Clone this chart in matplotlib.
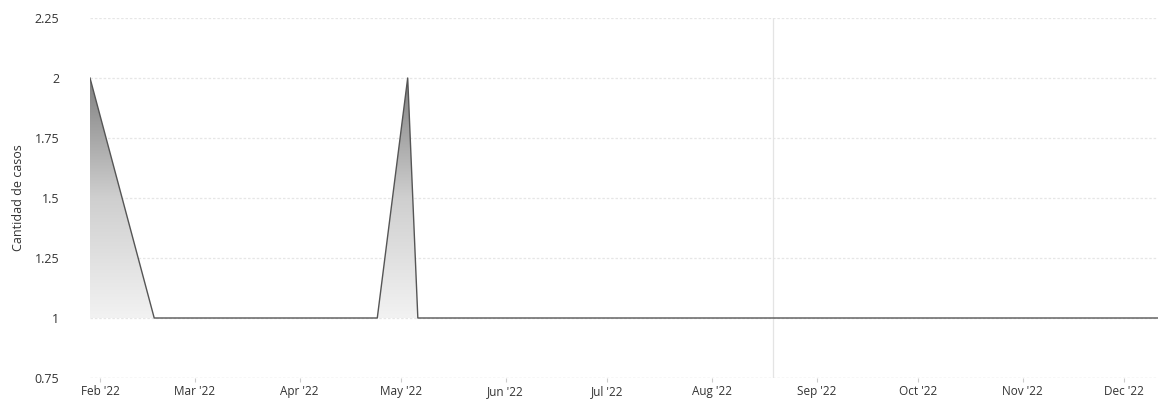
import matplotlib
matplotlib.use("Agg")
import matplotlib.pyplot as plt
import matplotlib.dates as mdates
import numpy as np
from datetime import datetime

# Case counts over time
dates = ["2022-01-29", "2022-02-17", "2022-04-24", "2022-05-03", "2022-05-06", "2022-12-11"]
values = [2, 1, 1, 2, 1, 1]
y_ticks = [0.75, 1, 1.25, 1.5, 1.75, 2, 2.25]
y_tick_labels = ["0.75", "1", "1.25", "1.5", "1.75", "2", "2.25"]
month_ticks = ["2022-02-01", "2022-03-01", "2022-04-01", "2022-05-01", "2022-06-01",
               "2022-07-01", "2022-08-01", "2022-09-01", "2022-10-01", "2022-11-01",
               "2022-12-01"]
month_labels = ["Feb '22", "Mar '22", "Apr '22", "May '22", "Jun '22", "Jul '22",
                "Aug '22", "Sep '22", "Oct '22", "Nov '22", "Dec '22"]
y_label = "Cantidad de casos"

plt.rcParams["font.family"] = ["Open Sans", "DejaVu Sans"]

x = mdates.date2num([datetime.fromisoformat(d) for d in dates])
xt = mdates.date2num([datetime.fromisoformat(d) for d in month_ticks])
y = np.array(values, dtype=float)

fig = plt.figure(figsize=(11.58, 4.0), dpi=100)
ax = fig.add_axes([90 / 1158, 0.055, 1 - 90 / 1158, 0.90])

x0 = mdates.date2num(datetime(2022, 1, 29))
x1 = mdates.date2num(datetime(2022, 12, 11))
ax.set_xlim(x0, x1)
ax.set_ylim(0.75, 2.25)

# horizontal grid
for i, t in enumerate(y_ticks):
    ax.axhline(t, color="#c4c4c4" if i == 0 else "#e6e6e6", lw=0.9,
               ls=(0, (2, 1.5)), zorder=0)

# gradient area fill between the series and the baseline
poly = ax.fill_between(x, y, 1, color="none", lw=0)
grad = np.linspace(0, 1, 256).reshape(-1, 1)
cmap = matplotlib.colors.LinearSegmentedColormap.from_list(
    "g", ["#f2f2f2", "#cfcfcf", "#808080"])
img = ax.imshow(grad, cmap=cmap, aspect="auto", origin="lower",
                extent=[x0, x1, 1, 2], zorder=1, interpolation="bicubic")
path = poly.get_paths()[0]
img.set_clip_path(path, transform=ax.transData)

ax.plot(x, y, color="#555555", lw=1.0, zorder=3)

# faint vertical crosshair
ax.axvline(mdates.date2num(datetime(2022, 8, 19)), color="#e4e4e4", lw=0.9, zorder=0)

for s in ax.spines.values():
    s.set_visible(False)

ax.set_yticks(y_ticks)
ax.set_yticklabels(y_tick_labels)
ax.set_xticks(xt)
ax.set_xticklabels(month_labels)
ax.tick_params(axis="y", length=0, pad=22, labelsize=9, labelcolor="#333333")
ax.tick_params(axis="x", length=3, color="#cccccc", pad=2, labelsize=8.5,
               labelcolor="#333333")
ax.set_ylabel(y_label, fontsize=9, color="#333333")
ax.yaxis.set_label_coords(-65 / 1068, 0.5)

fig.savefig("out.png", dpi=100, facecolor="white")
